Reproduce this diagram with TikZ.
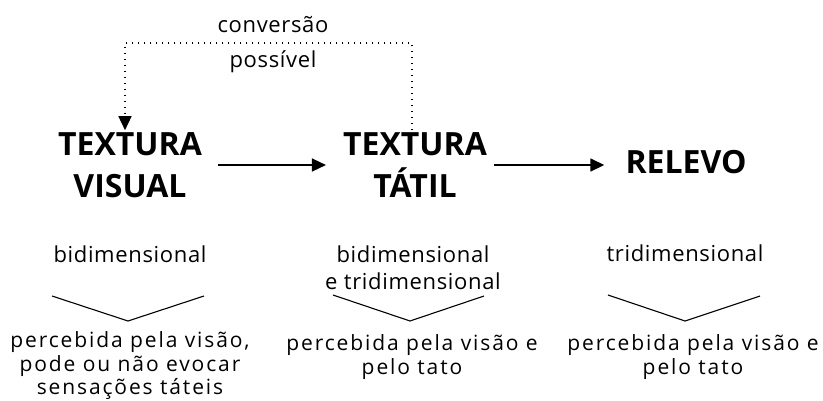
\documentclass[tikz,border=0pt]{standalone}
\usepackage{fontspec}
\setmainfont{Open Sans}
\usetikzlibrary{arrows.meta}
\newcommand{\titlefont}{\bfseries\fontsize{32}{42}\selectfont}
\newcommand{\midfont}{\addfontfeatures{LetterSpace=3}\fontsize{22}{27}\selectfont}
\newcommand{\lowfont}{\addfontfeatures{LetterSpace=9}\fontsize{21}{23.5}\selectfont}

\begin{document}
\begin{tikzpicture}[x=1pt,y=-1pt,>={Triangle[length=14pt,width=13pt]},
  title/.style={font=\titlefont,align=center,inner sep=2pt},
  dim/.style={font=\midfont,align=center,inner sep=0pt},
  desc/.style={font=\lowfont,align=center,inner sep=0pt},
  brace/.style={line width=1.1pt,line join=round}]
\useasboundingbox (0,0) rectangle (823,400);
\node[title] (visual) at (130,165) {TEXTURA\\VISUAL};
\node[title] (tatil) at (415,165) {TEXTURA\\TÁTIL};
\node[title] (relevo) at (686,162) {RELEVO};
\draw[->,line width=1.5pt,shorten <=14pt,shorten >=15pt] (visual.east) -- (tatil.west);
\draw[->,line width=1.5pt,shorten <=5pt,shorten >=19pt] (tatil.east) -- (tatil.east -| relevo.west);
% conversao possivel
\coordinate (cr) at (412,43); \coordinate (cl) at (125,43);
\draw[dash pattern=on 1.6pt off 4.4pt,line width=1.6pt,->] ([xshift=-3pt]tatil.north) -- (cr) -- (cl) -- ([xshift=-5pt]visual.north);
\node[dim] (conv) at (273,25) {conversão};
\node[dim] (poss) at (273,62) {possível};
\node[dim] (bi) at (130,254) {bidimensional};
\node[dim] (bitri) at (413,267.5) {bidimensional\\e tridimensional};
\node[dim] (tri) at (685,253) {tridimensional};
\draw[brace] (52,296) -- (128,321) -- (204,296);
\draw[brace] (333,295) -- (410,321) -- (484,296);
\draw[brace] (608,295) -- (685,321) -- (760,296);
\node[desc] (dvis) at (130,366) {percebida pela visão,\\pode ou não evocar\\sensações táteis};
\node[desc] (dtat) at (412,357) {percebida pela visão e\\pelo tato};
\node[desc] (drel) at (693,357) {percebida pela visão e\\pelo tato};
\end{tikzpicture}
\end{document}
